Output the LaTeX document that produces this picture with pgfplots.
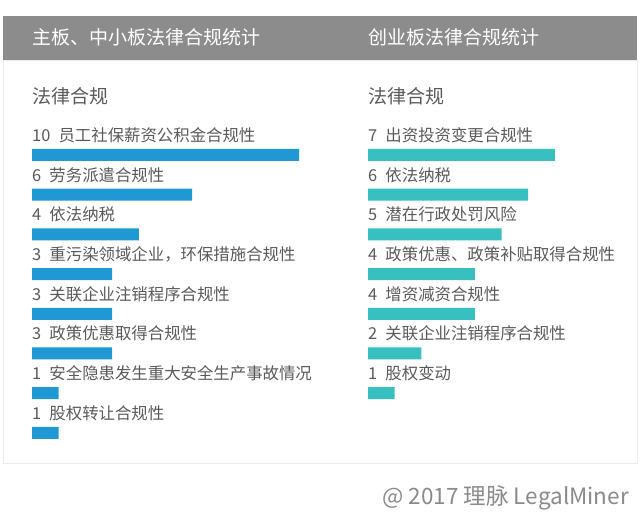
\documentclass[border=0pt]{standalone}
\usepackage{pgfplots}
\usepackage{pgfplotstable}
\pgfplotsset{compat=1.18}
\usepackage{fontspec}
\setmainfont{Noto Sans CJK SC}

\definecolor{headgray}{HTML}{8C8C8C}
\definecolor{labgray}{HTML}{5A5A5A}
\definecolor{barblue}{HTML}{1F98D3}
\definecolor{barteal}{HTML}{38BFC0}
\definecolor{markgray}{HTML}{8A8A8A}

% Main board and SME board
\pgfplotstableread{
idx val name
0 10 员工社保薪资公积金合规性
1 6 劳务派遣合规性
2 4 依法纳税
3 3 重污染领域企业，环保措施合规性
4 3 关联企业注销程序合规性
5 3 政策优惠取得合规性
6 1 安全隐患发生重大安全生产事故情况
7 1 股权转让合规性
}\mainboard

% ChiNext board
\pgfplotstableread{
idx val name
0 7 出资投资变更合规性
1 6 依法纳税
2 5 潜在行政处罚风险
3 4 政策优惠、政策补贴取得合规性
4 4 增资减资合规性
5 2 关联企业注销程序合规性
6 1 股权变动
}\chinext

\pgfplotsset{
  legalpanel/.style={
    xbar, bar width=12pt,
    scale only axis, width=267pt, height=317.6pt,
    xmin=0, xmax=10, ymin=-0.5, ymax=7.5, y dir=reverse,
    axis x line=none,
    axis y line*=left, y axis line style={draw=none},
    major tick length=0pt, xtick=\empty,
    yticklabel style={anchor=base west, inner sep=0pt, yshift=13.5pt,
      text=labgray, font=\fontsize{16.4}{18}\selectfont},
    anchor=north west,
  },
}

\begin{document}
\begin{tikzpicture}
\path[use as bounding box, fill=white] (0pt,0pt) rectangle (640pt,516pt);
% panel frame and header band
\draw[draw=black!8, fill=white] (3pt,53pt) rectangle (637pt,456pt);
\fill[headgray] (3pt,456pt) rectangle (637pt,500pt);
\node[anchor=west, inner sep=0pt, text=white, font=\fontsize{19}{21}\selectfont]
  at (32pt,479pt) {主板、中小板法律合规统计};
\node[anchor=west, inner sep=0pt, text=white, font=\fontsize{19}{21}\selectfont]
  at (368pt,479pt) {创业板法律合规统计};
\node[anchor=west, inner sep=0pt, text=labgray, font=\fontsize{19}{21}\selectfont]
  at (32pt,420pt) {法律合规};
\node[anchor=west, inner sep=0pt, text=labgray, font=\fontsize{19}{21}\selectfont]
  at (368pt,420pt) {法律合规};

\begin{axis}[legalpanel, at={(32pt,380.85pt)},
  ytick={0,...,7},
  yticklabel={\pgfplotstablegetelem{\ticknum}{val}\of\mainboard\pgfplotsretval\hspace{0.5em}\pgfplotstablegetelem{\ticknum}{name}\of\mainboard\pgfplotsretval}]
\addplot[draw=none, fill=barblue] table[x=val, y=idx] {\mainboard};
\end{axis}

\begin{axis}[legalpanel, at={(368pt,380.85pt)},
  ytick={0,...,6},
  yticklabel={\pgfplotstablegetelem{\ticknum}{val}\of\chinext\pgfplotsretval\hspace{0.5em}\pgfplotstablegetelem{\ticknum}{name}\of\chinext\pgfplotsretval}]
\addplot[draw=none, fill=barteal] table[x=val, y=idx] {\chinext};
\end{axis}

\node[anchor=east, inner sep=0pt, text=markgray, font=\fontsize{22.5}{24}\selectfont]
  at (629pt,18pt) {@ 2017 理脉 LegalMiner};
\end{tikzpicture}
\end{document}
